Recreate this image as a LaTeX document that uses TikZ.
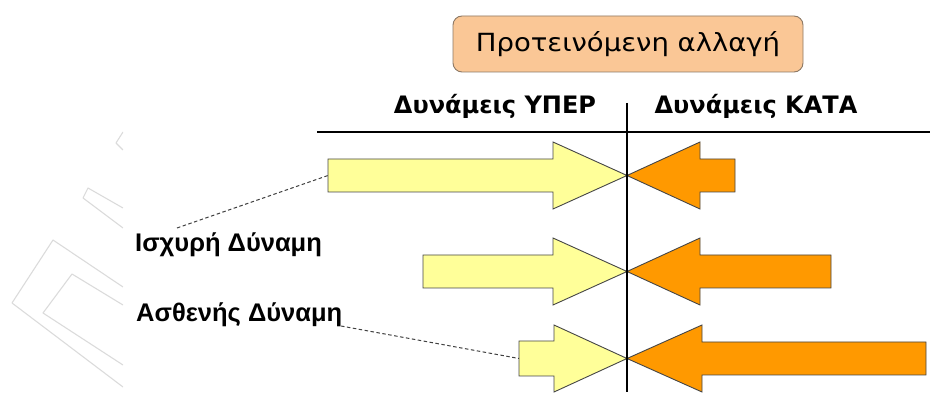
\documentclass[tikz,border=0pt]{standalone}
\usepackage{fontspec}
\setmainfont{DejaVu Sans}
\newfontfamily\labfont{Liberation Sans}
\definecolor{proyellow}{RGB}{255,255,153}
\definecolor{conorange}{RGB}{255,153,0}
\definecolor{peach}{RGB}{250,199,150}
\definecolor{peachedge}{RGB}{140,120,100}
\definecolor{edgegray}{RGB}{70,70,70}
\begin{document}
\begin{tikzpicture}[x=1pt,y=-1pt,
  proarrow/.style={fill=proyellow,draw=edgegray,line width=0.9pt,line join=miter},
  conarrow/.style={fill=conorange,draw=edgegray,line width=0.9pt,line join=miter},
  axis/.style={draw=black,line width=1.6pt},
  leader/.style={draw=black!75,dash pattern=on 3.5pt off 2.5pt,line width=1pt},
  coltitle/.style={font=\bfseries\fontsize{24}{28}\selectfont,inner sep=0pt},
  sidelabel/.style={font=\labfont\bfseries\fontsize{25.5}{29}\selectfont,inner sep=0pt,anchor=west},
  wmark/.style={draw=black!14,line width=1.1pt,line join=round}]
\useasboundingbox (0,0) rectangle (930,403);
% faint watermark on the left
\begin{scope}
\clip (0,0) rectangle (123,403);
\draw[wmark] (123,287) -- (53,240) -- (12,303) -- (123,387);
\draw[wmark] (123,305) -- (72,274) -- (43,313) -- (123,365);
\draw[wmark] (123,208) -- (88,188) -- (83,198) -- (123,228);
\draw[wmark] (123,132) -- (116,143) -- (123,150);
\end{scope}
% header box
\node[draw=peachedge,fill=peach,rounded corners=9pt,line width=0.9pt,
  minimum width=350pt,minimum height=56pt,inner sep=0pt,
  font=\fontsize{25}{29}\selectfont] (head) at (628,44) {\scalebox{1.1}[1]{Προτεινόμενη αλλαγή}};
% column titles
\node[coltitle] (pro) at (495,106) {Δυνάμεις ΥΠΕΡ};
\node[coltitle] (con) at (756,106) {Δυνάμεις ΚΑΤΑ};
% axes
\coordinate (hl) at (317,132);
\coordinate (hr) at (930,132);
\coordinate (vt) at (627,103);
\coordinate (vb) at (627,392);
% arrows row 1
\draw[proarrow] (328,159) -- (553,159) -- (553,142) -- (627,175.5) -- (553,209) -- (553,192) -- (328,192) -- cycle;
\draw[conarrow] (735,159) -- (700,159) -- (700,142) -- (627,175.5) -- (700,209) -- (700,192) -- (735,192) -- cycle;
\coordinate (tail1) at (328,175.5);
% arrows row 2
\draw[proarrow] (423,255) -- (553,255) -- (553,238) -- (627,271.5) -- (553,305) -- (553,288) -- (423,288) -- cycle;
\draw[conarrow] (831,255) -- (700,255) -- (700,238) -- (627,271.5) -- (700,305) -- (700,288) -- (831,288) -- cycle;
% arrows row 3
\draw[proarrow] (519,341) -- (554,341) -- (554,325) -- (627,358.5) -- (554,392) -- (554,376) -- (519,376) -- cycle;
\draw[conarrow] (926,342) -- (702,342) -- (702,325) -- (627,358.5) -- (702,392) -- (702,375) -- (926,375) -- cycle;
\coordinate (tail3) at (519,358.5);
\draw[axis] (hl) -- (hr);
\draw[axis] (vt) -- (vb);
% side labels
\node[sidelabel] (strong) at (135,245) {Ισχυρή Δύναμη};
\node[sidelabel] (weak) at (136,315) {Ασθενής Δύναμη};
\coordinate (strongtop) at (177,228);
\coordinate (weakend) at (341,326);
\draw[leader] (strongtop) -- (tail1);
\draw[leader] (weakend) -- (tail3);
\end{tikzpicture}
\end{document}
